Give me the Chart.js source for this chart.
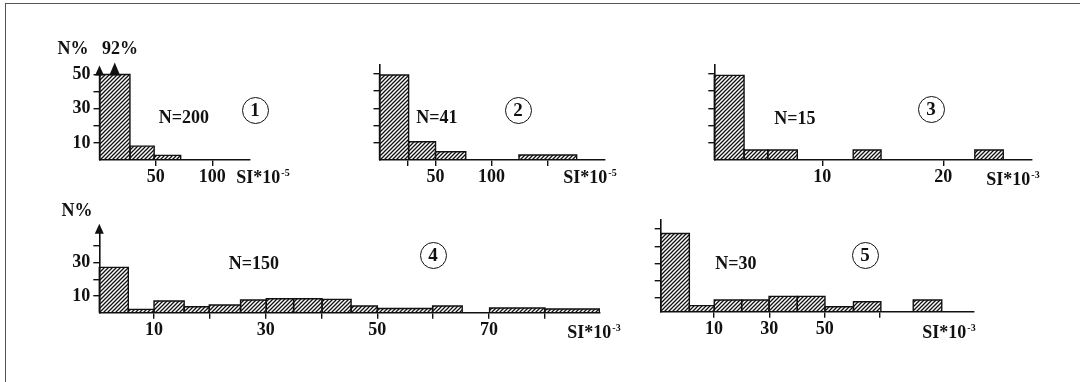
<!DOCTYPE html>
<html>
<head>
<meta charset="utf-8">
<script src="https://cdn.jsdelivr.net/npm/chart.js@4.4.0/dist/chart.umd.min.js"></script>
<style>
  body { margin: 0; background: #fff; }
  #wrap { position: relative; width: 1080px; height: 382px; overflow: hidden; background: #fff; }
  #frame { position: absolute; left: 5px; top: 3px; width: 1080px; height: 380px; border-left: 1.5px solid #555; border-top: 1.5px solid #555; }
  canvas { position: absolute; left: 0; top: 0; }
  .t { position: absolute; transform: translate(-50%, -50%); font: bold 18px "Liberation Serif", "Times New Roman", serif; line-height: 1; color: #111; white-space: nowrap; }
  .t .sup { font-size: 10px; position: relative; top: -7px; margin-left: 1px; }
  .c { position: absolute; box-sizing: border-box; width: 27px; height: 27px; margin: -13.5px 0 0 -13.5px; border: 1.8px solid #111; border-radius: 50%; font: bold 19px "Liberation Serif", "Times New Roman", serif; line-height: 24px; text-align: center; color: #111; }
</style>
</head>
<body>
<div id="wrap">
  <div id="frame"></div>
  <canvas id="p1" width="1080" height="382"></canvas>
  <canvas id="p2" width="1080" height="382"></canvas>
  <canvas id="p3" width="1080" height="382"></canvas>
  <canvas id="p4" width="1080" height="382"></canvas>
  <canvas id="p5" width="1080" height="382"></canvas>

  <div class="t" style="left:73px;top:48px">N%</div>
  <div class="t" style="left:120px;top:48px">92%</div>
  <div class="t" style="left:184px;top:117px">N=200</div>
  <div class="c" style="left:255px;top:110px">1</div>
  <div class="t" style="left:263px;top:177px">SI*10<span class="sup">-5</span></div>

  <div class="t" style="left:437px;top:117px">N=41</div>
  <div class="c" style="left:518px;top:110px">2</div>
  <div class="t" style="left:590px;top:177px">SI*10<span class="sup">-5</span></div>

  <div class="t" style="left:795px;top:118px">N=15</div>
  <div class="c" style="left:931px;top:109px">3</div>
  <div class="t" style="left:1013px;top:179px">SI*10<span class="sup">-3</span></div>

  <div class="t" style="left:77px;top:210px">N%</div>
  <div class="t" style="left:254px;top:263px">N=150</div>
  <div class="c" style="left:433px;top:255px">4</div>
  <div class="t" style="left:594px;top:332px">SI*10<span class="sup">-3</span></div>

  <div class="t" style="left:736px;top:263px">N=30</div>
  <div class="c" style="left:865px;top:255px">5</div>
  <div class="t" style="left:949px;top:332px">SI*10<span class="sup">-3</span></div>
</div>

<script>
// ---- panel 1 : N=200, SI*10^-5 ----
const p1Start = [0, 27, 48.5];
const p1End = [27, 48.5, 72];
const p1Pct = [92, 8.1, 2.7];
const p1XTicks = [50, 100];
const p1XLabels = [50, 100];
const p1YTicks = [10, 20, 30, 40, 50];
const p1YLabels = [10, 30, 50];

// ---- panel 2 : N=41, SI*10^-5 ----
const p2Start = [0, 26, 50, 124.5];
const p2End = [26, 50, 77, 176];
const p2Pct = [49.4, 10.6, 4.8, 2.9];
const p2XTicks = [25, 50, 100, 150];
const p2XLabels = [50, 100];
const p2YTicks = [10, 20, 30, 40, 50];

// ---- panel 3 : N=15, SI*10^-3 ----
const p3Start = [1.07, 3.53, 5.49, 12.55, 22.6];
const p3End = [3.53, 5.49, 7.93, 14.85, 24.95];
const p3Pct = [49.2, 5.8, 5.8, 5.8, 5.8];
const p3XTicks = [10, 20];
const p3XLabels = [10, 20];
const p3YTicks = [10, 20, 30, 40, 50];

// ---- panel 4 : N=150, SI*10^-3 ----
const p4Start = [0.2, 5.4, 10, 15.4, 19.9, 25.5, 30.1, 35, 40.1, 45.3, 50, 59.9, 70.1, 80];
const p4End = [5.4, 10, 15.4, 19.9, 25.5, 30.1, 35, 40.1, 45.3, 50, 59.9, 65.2, 80, 89.75];
const p4Pct = [27.2, 2.0, 7.0, 3.6, 4.6, 7.6, 8.4, 8.4, 8.0, 4.0, 2.5, 4.0, 2.8, 2.2];
const p4XTicks = [10, 20, 30, 40, 50, 60, 70, 80];
const p4XLabels = [10, 30, 50, 70];
const p4YTicks = [10, 20, 30, 40];
const p4YLabels = [10, 30];

// ---- panel 5 : N=30, SI*10^-3 ----
const p5Start = [-9.25, 1.1, 10.1, 20, 29.9, 40.1, 50.1, 60.4, 82];
const p5End = [1.1, 10.1, 20, 29.9, 40.1, 50.1, 60.4, 70.3, 92.3];
const p5Pct = [45.4, 3.5, 6.8, 6.8, 8.9, 8.9, 2.9, 5.8, 6.8];
const p5XTicks = [10, 30, 50, 70];
const p5XLabels = [10, 30, 50];
const p5YTicks = [8, 18, 28, 38, 48];

Chart.defaults.font.family = '"Liberation Serif", "Times New Roman", serif';
Chart.defaults.color = '#111';

const INK = '#111';
const Y_AXIS_W = 40;
const X_AXIS_H = 30;

// diagonal hatching used for every bar
const hatch = (() => {
    const c = document.createElement('canvas');
    c.width = 4; c.height = 4;
    const g = c.getContext('2d');
    g.strokeStyle = '#111';
    g.lineWidth = 1.3;
    g.beginPath();
    g.moveTo(-1, 5); g.lineTo(5, -1);
    g.moveTo(-1, 1); g.lineTo(1, -1);
    g.moveTo(3, 5); g.lineTo(5, 3);
    g.stroke();
    return g.createPattern(c, 'repeat');
})();

// one closed outline per histogram bin, value capped at the axis top
const binSets = (starts, ends, pct, cap) => pct.map((v, i) => {
    const h = Math.min(v, cap);
    return {
        data: [
            { x: starts[i], y: 0 },
            { x: starts[i], y: h },
            { x: ends[i], y: h },
            { x: ends[i], y: 0 }
        ],
        borderColor: INK,
        borderWidth: 1.4,
        backgroundColor: hatch,
        fill: 'origin',
        pointRadius: 0,
        tension: 0,
        clip: 6
    };
});

const arrowPlugin = {
    id: 'arrows',
    afterDraw(chart, args, opts) {
        const { ctx, chartArea, scales } = chart;
        (opts.marks || []).forEach(m => {
            const x = scales.x.getPixelForValue(m.x);
            const base = chartArea.top + 1;
            ctx.save();
            ctx.fillStyle = INK;
            ctx.beginPath();
            ctx.moveTo(x - m.w / 2, base);
            ctx.lineTo(x + m.w / 2, base);
            ctx.lineTo(x, base - m.h);
            ctx.closePath();
            ctx.fill();
            ctx.restore();
        });
    }
};

const fixBox = (size, key) => (scale) => {
    scale[key] = size;
    scale.paddingLeft = 0; scale.paddingRight = 0;
    scale.paddingTop = 0; scale.paddingBottom = 0;
};

const drawPanel = (id, p) => {
    const ctx = document.getElementById(id).getContext('2d');
    new Chart(ctx, {
        type: 'line',
        data: { datasets: binSets(p.starts, p.ends, p.pct, p.yMax) },
        plugins: [arrowPlugin],
        options: {
            responsive: false,
            animation: false,
            events: [],
            layout: {
                padding: {
                    left: p.area.left - Y_AXIS_W,
                    top: p.area.top,
                    right: 1080 - p.area.right,
                    bottom: 382 - p.area.bottom - X_AXIS_H
                }
            },
            plugins: {
                legend: { display: false },
                tooltip: { enabled: false },
                arrows: { marks: p.arrows || [] }
            },
            scales: {
                x: {
                    type: 'linear',
                    min: p.xMin,
                    max: p.xMax,
                    afterFit: fixBox(X_AXIS_H, 'height'),
                    afterBuildTicks: (s) => { s.ticks = p.xTicks.map(v => ({ value: v })); },
                    border: { display: true, color: INK, width: 1.6 },
                    grid: { drawOnChartArea: false, drawTicks: true, tickLength: 6, color: INK, lineWidth: 1.4 },
                    ticks: {
                        autoSkip: false,
                        maxRotation: 0,
                        padding: 1,
                        font: { size: 18, weight: 'bold' },
                        callback: (v) => p.xLabels.includes(v) ? String(v) : ''
                    }
                },
                y: {
                    min: 0,
                    max: p.yMax,
                    afterFit: fixBox(Y_AXIS_W, 'width'),
                    afterBuildTicks: (s) => { s.ticks = p.yTicks.map(v => ({ value: v })); },
                    border: { display: true, color: INK, width: 1.6 },
                    grid: { drawOnChartArea: false, drawTicks: true, tickLength: 6, color: INK, lineWidth: 1.4 },
                    ticks: {
                        autoSkip: false,
                        padding: 3,
                        font: { size: 18, weight: 'bold' },
                        callback: (v) => (p.yLabels || []).includes(v) ? String(v) : ''
                    }
                }
            }
        }
    });
};

drawPanel('p1', {
    starts: p1Start, ends: p1End, pct: p1Pct,
    xTicks: p1XTicks, xLabels: p1XLabels, yTicks: p1YTicks, yLabels: p1YLabels,
    xMin: 0, xMax: 133.5, yMax: 50,
    area: { left: 99.5, right: 250, top: 74.5, bottom: 160 },
    arrows: [
        { x: 0, w: 9, h: 10 },
        { x: (p1Start[0] + p1End[0]) / 2, w: 11, h: 13 }
    ]
});

drawPanel('p2', {
    starts: p2Start, ends: p2End, pct: p2Pct,
    xTicks: p2XTicks, xLabels: p2XLabels, yTicks: p2YTicks,
    xMin: 0, xMax: 201.3, yMax: 55.2,
    area: { left: 379.5, right: 605, top: 65, bottom: 160 }
});

drawPanel('p3', {
    starts: p3Start, ends: p3End, pct: p3Pct,
    xTicks: p3XTicks, xLabels: p3XLabels, yTicks: p3YTicks,
    xMin: 1.07, xMax: 27.3, yMax: 55.2,
    area: { left: 714.3, right: 1031.7, top: 65, bottom: 160 }
});

drawPanel('p4', {
    starts: p4Start, ends: p4End, pct: p4Pct,
    xTicks: p4XTicks, xLabels: p4XLabels, yTicks: p4YTicks, yLabels: p4YLabels,
    xMin: 0.2, xMax: 89.75, yMax: 48,
    area: { left: 99.3, right: 599.3, top: 232.7, bottom: 312.7 },
    arrows: [{ x: 0.2, w: 9, h: 10 }]
});

drawPanel('p5', {
    starts: p5Start, ends: p5End, pct: p5Pct,
    xTicks: p5XTicks, xLabels: p5XLabels, yTicks: p5YTicks,
    xMin: -9.25, xMax: 103.7, yMax: 53.2,
    area: { left: 660.7, right: 973.3, top: 220, bottom: 311.7 }
});
</script>
</body>
</html>
